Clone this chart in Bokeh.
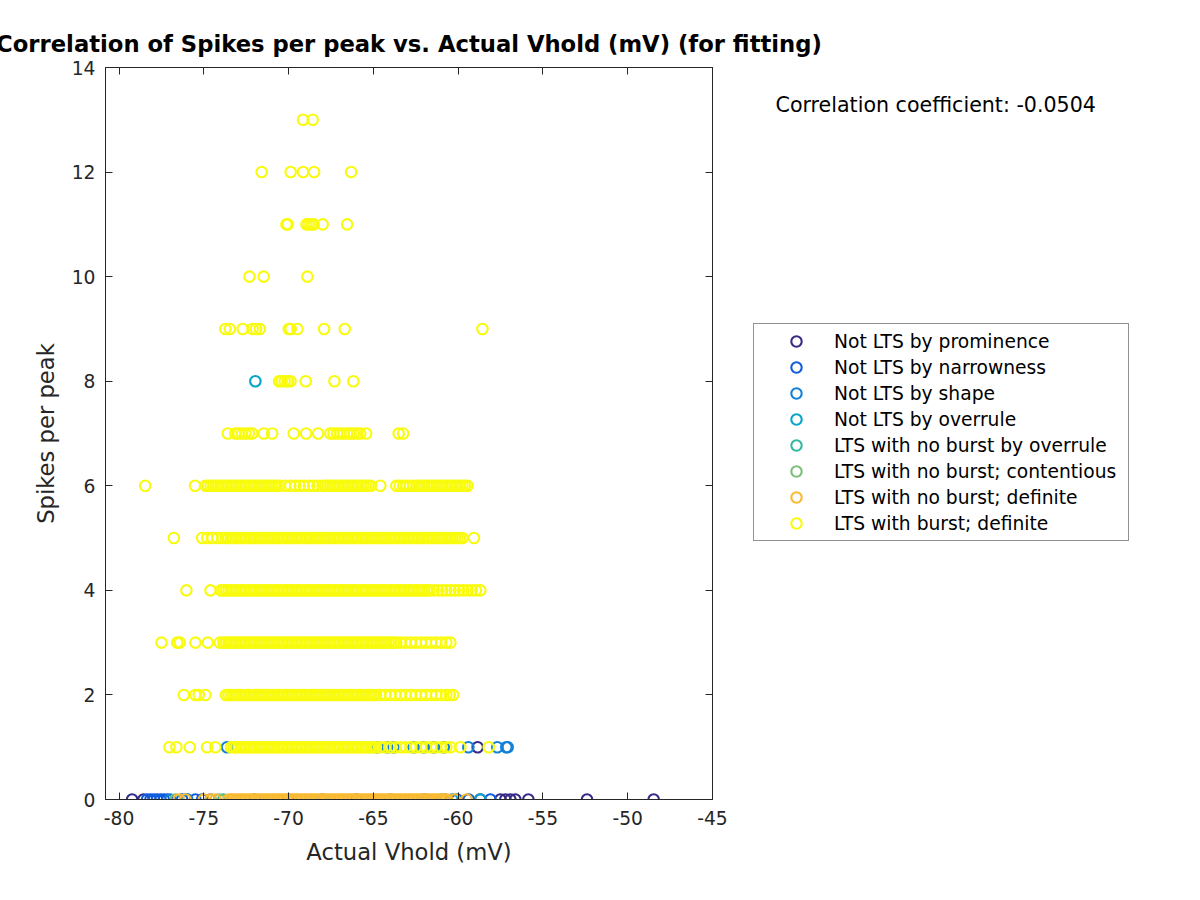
from bokeh.plotting import figure
from bokeh.layouts import row, column
from bokeh.models import (ColumnDataSource, Legend, LegendItem, Label, LinearAxis,
                          Range1d, FixedTicker)
from bokeh.embed import file_html
from bokeh.resources import INLINE

FONT = "DejaVu Sans"
TXT = "#262626"

title_text = "Correlation of Spikes per peak vs. Actual Vhold (mV) (for fitting)"
x_label = "Actual Vhold (mV)"
y_label = "Spikes per peak"

categories = ["Not LTS by prominence", "Not LTS by narrowness", "Not LTS by shape",
              "Not LTS by overrule", "LTS with no burst by overrule",
              "LTS with no burst; contentious", "LTS with no burst; definite",
              "LTS with burst; definite"]
colors = ["#352A87", "#0F5CDD", "#1481D6", "#06A4CA", "#33B8A1", "#7CBF7B", "#F8BA32", "#F9FB0E"]

x_ticks = [-80, -75, -70, -65, -60, -55, -50, -45]
x_tick_labels = ["-80", "-75", "-70", "-65", "-60", "-55", "-50", "-45"]
y_ticks = [0, 2, 4, 6, 8, 10, 12, 14]
corr_coef = -0.0504

# ---- Not LTS by prominence ----
prominence_x = [-79.23, -78.56, -58.85, -58.70, -57.51, -57.22, -56.92, -56.63, -55.86, -52.40, -48.47]
prominence_y = [0, 0, 1, 0, 0, 0, 0, 0, 0, 0, 0]

# ---- Not LTS by narrowness ----
narrowness_x = [-78.35, -78.15, -77.95, -77.76, -77.56, -77.36, -77.15, -76.28, -75.98, -75.50,
                -75.10, -60.07, -59.38, -58.10]
narrowness_y = [0, 0, 0, 0, 0, 0, 0, 0, 0, 0, 0, 0, 0, 0]

# ---- Not LTS by shape ----
shape_x = [-76.97, -76.00, -74.60, -72.00, -70.00, -68.00, -66.00, -64.00, -62.00, -60.80,
           -73.63, -64.78, -64.19, -63.80, -62.62, -62.03, -61.44, -60.85, -59.40, -57.69, -57.16, -57.08]
shape_y = [0, 0, 0, 0, 0, 0, 0, 0, 0, 0,
           1, 1, 1, 1, 1, 1, 1, 1, 1, 1, 1, 1]

# ---- Not LTS by overrule ----
overrule_x = [-60.35, -58.69, -71.96]
overrule_y = [0, 0, 8]

# ---- LTS with no burst by overrule ----
nb_overrule_x = [-73.85, -61.00]
nb_overrule_y = [0, 0]

# ---- LTS with no burst; contentious ----
contentious_x = [-76.67, -74.10]
contentious_y = [0, 0]

# ---- LTS with no burst; definite (all at 0 spikes per peak) ----
nb_definite_x = [-76.48, -76.08, -75.00, -74.60, -74.30,
    -73.55, -73.40, -73.25, -73.10, -72.95, -72.80, -72.65, -72.50, -72.35, -72.20, -72.05,
    -71.90, -71.75, -71.60, -71.45, -71.30, -71.15, -71.00, -70.85, -70.70, -70.55, -70.40,
    -70.25, -70.10, -69.95, -69.80, -69.65, -69.50, -69.35, -69.20, -69.05, -68.90, -68.75,
    -68.60, -68.45, -68.30, -68.15, -68.00, -67.85, -67.70, -67.55, -67.40, -67.25, -67.10,
    -66.95, -66.80, -66.65, -66.50, -66.35, -66.20, -66.05, -65.90, -65.75, -65.60, -65.45,
    -65.30, -65.15, -65.00, -64.85, -64.70, -64.55, -64.40, -64.25, -64.10, -63.95, -63.80,
    -63.65, -63.50, -63.35, -63.20, -63.05, -62.90, -62.75, -62.60, -62.45, -62.30, -62.15,
    -62.00, -61.85, -61.70, -61.55, -61.40, -61.25, -61.10, -60.95, -60.80, -60.65,
    -60.20, -59.50]

# ---- LTS with burst; definite: x values of each spikes-per-peak row ----
burst_x_1 = [-77.03, -76.62, -75.83, -74.81, -74.32,
    -73.40, -73.25, -73.10, -72.95, -72.80, -72.65, -72.50, -72.35, -72.20, -72.05, -71.90,
    -71.75, -71.60, -71.45, -71.30, -71.15, -71.00, -70.85, -70.70, -70.55, -70.40, -70.25,
    -70.10, -69.95, -69.80, -69.65, -69.50, -69.35, -69.20, -69.05, -68.90, -68.75, -68.60,
    -68.45, -68.30, -68.15, -68.00, -67.85, -67.70, -67.55, -67.40, -67.25, -67.10, -66.95,
    -66.80, -66.65, -66.50, -66.35, -66.20, -66.05, -65.90, -65.75, -65.60, -65.45, -65.30,
    -65.15, -65.00, -64.85,
    -64.60, -64.30, -64.00, -63.70, -63.40, -63.10, -62.80, -62.50, -62.20, -61.90, -61.60,
    -61.30, -61.00, -60.70, -60.45, -59.87, -58.20]
burst_x_2 = [-76.18, -75.50, -75.30, -74.91,
    -73.70, -73.55, -73.40, -73.25, -73.10, -72.95, -72.80, -72.65, -72.50, -72.35, -72.20,
    -72.05, -71.90, -71.75, -71.60, -71.45, -71.30, -71.15, -71.00, -70.85, -70.70, -70.55,
    -70.40, -70.25, -70.10, -69.95, -69.80, -69.65, -69.50, -69.35, -69.20, -69.05, -68.90,
    -68.75, -68.60, -68.45, -68.30, -68.15, -68.00, -67.85, -67.70, -67.55, -67.40, -67.25,
    -67.10, -66.95, -66.80, -66.65, -66.50, -66.35, -66.20, -66.05, -65.90, -65.75, -65.60,
    -65.45, -65.30, -65.15, -65.00, -64.85,
    -64.60, -64.30, -64.00, -63.70, -63.40, -63.10, -62.80, -62.50, -62.20, -61.90, -61.60,
    -61.30, -61.00, -60.70, -60.50, -60.30]
burst_x_3 = [-77.50, -76.57, -76.42, -75.50, -74.77, -74.06,
    -73.85, -73.70, -73.55, -73.40, -73.25, -73.10, -72.95, -72.80, -72.65, -72.50, -72.35,
    -72.20, -72.05, -71.90, -71.75, -71.60, -71.45, -71.30, -71.15, -71.00, -70.85, -70.70,
    -70.55, -70.40, -70.25, -70.10, -69.95, -69.80, -69.65, -69.50, -69.35, -69.20, -69.05,
    -68.90, -68.75, -68.60, -68.45, -68.30, -68.15, -68.00, -67.85, -67.70, -67.55, -67.40,
    -67.25, -67.10, -66.95, -66.80, -66.65, -66.50, -66.35, -66.20, -66.05, -65.90, -65.75,
    -65.60, -65.45, -65.30, -65.15, -65.00, -64.85, -64.70, -64.55, -64.40, -64.25, -64.10,
    -63.95, -63.80, -63.65,
    -63.40, -63.10, -62.80, -62.50, -62.20, -61.90, -61.60, -61.30, -61.00, -60.70, -60.46]
burst_x_4 = [-76.03, -74.61,
    -74.00, -73.85, -73.70, -73.55, -73.40, -73.25, -73.10, -72.95, -72.80, -72.65, -72.50,
    -72.35, -72.20, -72.05, -71.90, -71.75, -71.60, -71.45, -71.30, -71.15, -71.00, -70.85,
    -70.70, -70.55, -70.40, -70.25, -70.10, -69.95, -69.80, -69.65, -69.50, -69.35, -69.20,
    -69.05, -68.90, -68.75, -68.60, -68.45, -68.30, -68.15, -68.00, -67.85, -67.70, -67.55,
    -67.40, -67.25, -67.10, -66.95, -66.80, -66.65, -66.50, -66.35, -66.20, -66.05, -65.90,
    -65.75, -65.60, -65.45, -65.30, -65.15, -65.00, -64.85, -64.70, -64.55, -64.40, -64.25,
    -64.10, -63.95, -63.80, -63.65, -63.50, -63.35, -63.20, -63.05, -62.90, -62.75, -62.60,
    -62.45, -62.30, -62.15, -62.00, -61.85, -61.70,
    -61.45, -61.20, -60.95, -60.70, -60.45, -60.20, -59.95, -59.70, -59.45, -59.20, -58.95, -58.69]
burst_x_5 = [-76.77, -75.10, -74.80, -74.50, -74.20, -73.90,
    -73.70, -73.55, -73.40, -73.25, -73.10, -72.95, -72.80, -72.65, -72.50, -72.35, -72.20,
    -72.05, -71.90, -71.75, -71.60, -71.45, -71.30, -71.15, -71.00, -70.85, -70.70, -70.55,
    -70.40, -70.25, -70.10, -69.95, -69.80, -69.65, -69.50, -69.35, -69.20, -69.05, -68.90,
    -68.75, -68.60, -68.45, -68.30, -68.15, -68.00, -67.85, -67.70, -67.55, -67.40, -67.25,
    -67.10, -66.95, -66.80, -66.65, -66.50, -66.35, -66.20, -66.05, -65.90, -65.75, -65.60,
    -65.45, -65.30, -65.15, -65.00, -64.85, -64.70, -64.55, -64.40, -64.25, -64.10, -63.95,
    -63.80, -63.65, -63.50, -63.35, -63.20, -63.05, -62.90, -62.75, -62.60, -62.45, -62.30,
    -62.15, -62.00, -61.85, -61.70, -61.55, -61.40, -61.25, -61.10, -60.95, -60.80, -60.65,
    -60.50, -60.35, -60.20, -60.05, -59.90, -59.75, -59.07]
burst_x_6 = [-78.46, -75.52,
    -74.90, -74.75, -74.60, -74.45, -74.30, -74.15, -74.00, -73.85, -73.70, -73.55, -73.40,
    -73.25, -73.10, -72.95, -72.80, -72.65, -72.50, -72.35, -72.20, -72.05, -71.90, -71.75,
    -71.60, -71.45, -71.30, -71.15, -71.00, -70.85, -70.70, -70.55,
    -70.20, -69.90, -69.60, -69.35, -69.10, -68.80, -68.55, -68.30,
    -68.00, -67.85, -67.70, -67.55, -67.40, -67.25, -67.10, -66.95, -66.80, -66.65, -66.50,
    -66.35, -66.20, -66.05, -65.90, -65.75, -65.60, -65.45, -65.30, -65.15, -64.59,
    -63.65, -63.45, -63.25, -63.05, -62.85, -62.65, -62.45, -62.30, -62.15, -62.00, -61.85,
    -61.70, -61.55, -61.40, -61.25, -61.10, -60.95, -60.80, -60.65, -60.50, -60.35, -60.20,
    -60.05, -59.90, -59.75, -59.60, -59.45]
burst_x_7 = [-73.59, -73.14, -72.95, -72.75, -72.55, -72.35, -72.15, -71.47, -70.97, -69.70,
             -68.97, -68.26, -67.54, -67.35, -67.15, -66.95, -66.75, -66.55, -66.35, -66.15,
             -65.95, -65.77, -65.43, -63.51, -63.25]
burst_x_8 = [-70.56, -70.41, -70.23, -70.05, -69.89, -68.99, -67.30, -66.18]
burst_x_9 = [-73.73, -73.47, -72.71, -72.12, -71.92, -71.70, -69.99, -69.88, -69.48, -67.91,
             -66.69, -58.57]
burst_x_10 = [-72.31, -71.47, -68.89]
burst_x_11 = [-70.13, -70.05, -68.95, -68.81, -68.66, -68.52, -67.99, -66.55]
burst_x_12 = [-71.59, -69.88, -69.15, -68.50, -66.31]
burst_x_13 = [-69.15, -68.58]

burst_rows = [(1, burst_x_1), (2, burst_x_2), (3, burst_x_3), (4, burst_x_4), (5, burst_x_5),
              (6, burst_x_6), (7, burst_x_7), (8, burst_x_8), (9, burst_x_9), (10, burst_x_10),
              (11, burst_x_11), (12, burst_x_12), (13, burst_x_13)]
burst_x = [v for _, r in burst_rows for v in r]
burst_y = [k for k, r in burst_rows for _ in r]
nb_definite_y = [0] * len(nb_definite_x)

series = [
    (prominence_x, prominence_y),
    (narrowness_x, narrowness_y),
    (shape_x, shape_y),
    (overrule_x, overrule_y),
    (nb_overrule_x, nb_overrule_y),
    (contentious_x, contentious_y),
    (nb_definite_x, nb_definite_y),
    (burst_x, burst_y),
]
sources = [ColumnDataSource(dict(x=xs, y=ys)) for xs, ys in series]

MSIZE = 10.5
MLW = 2.1
TOP_H = 57
MAIN_H = 884 - TOP_H

# ---------------- title strip ----------------
head = figure(width=1184, height=TOP_H, output_backend="svg", toolbar_location=None,
              x_range=Range1d(0, 1), y_range=Range1d(0, 1),
              x_axis_type=None, y_axis_type=None,
              min_border_left=105, min_border_right=472, min_border_top=TOP_H - 1,
              min_border_bottom=0, background_fill_color="white", border_fill_color="white")
head.grid.visible = False
head.outline_line_color = None
head.title.text = title_text
head.title.align = "center"
head.title.text_font = FONT
head.title.text_font_size = "22.7px"
head.title.text_font_style = "bold"
head.title.text_color = "black"
head.title.standoff = 0

# ---------------- main axes ----------------
p = figure(width=752, height=MAIN_H, output_backend="svg", toolbar_location=None,
           x_range=Range1d(-80.8, -45), y_range=Range1d(0, 14),
           min_border_left=105, min_border_right=40, min_border_top=67 - TOP_H,
           min_border_bottom=MAIN_H - (67 - TOP_H) - 732,
           background_fill_color="white", border_fill_color="white")
p.grid.visible = False
p.outline_line_color = TXT
p.outline_line_width = 1

for src, col in zip(sources, colors):
    p.scatter("x", "y", source=src, marker="circle", size=MSIZE, fill_color=None,
              line_color=col, line_width=MLW)

def style_axis(ax):
    ax.axis_line_color = TXT
    ax.major_tick_line_color = TXT
    ax.major_tick_in = 7
    ax.major_tick_out = 0
    ax.minor_tick_line_color = None
    ax.major_label_text_font = FONT
    ax.major_label_text_font_size = "18.7px"
    ax.major_label_text_color = TXT
    ax.axis_label_text_font = FONT
    ax.axis_label_text_font_size = "22.7px"
    ax.axis_label_text_font_style = "normal"
    ax.axis_label_text_color = TXT

p.xaxis.ticker = FixedTicker(ticks=x_ticks)
p.yaxis.ticker = FixedTicker(ticks=y_ticks)
style_axis(p.xaxis[0])
style_axis(p.yaxis[0])
p.xaxis.major_label_overrides = dict(zip(x_ticks, x_tick_labels))
p.xaxis.axis_label = x_label
p.yaxis.axis_label = y_label
p.xaxis.major_label_standoff = 11
p.xaxis.axis_label_standoff = 11
p.yaxis.major_label_standoff = 10
p.yaxis.axis_label_standoff = 10

top = LinearAxis(ticker=FixedTicker(ticks=x_ticks))
style_axis(top)
top.major_label_standoff = 0
top.major_label_overrides = {t: "" for t in x_ticks}
p.add_layout(top, "above")
right = LinearAxis(ticker=FixedTicker(ticks=y_ticks))
style_axis(right)
right.major_label_standoff = 0
right.major_label_overrides = {t: "" for t in y_ticks}
p.add_layout(right, "right")

# ---------------- side area: legend and correlation text ----------------
side = figure(width=432, height=MAIN_H, output_backend="svg", toolbar_location=None,
              x_range=Range1d(0, 1), y_range=Range1d(0, 1),
              x_axis_type=None, y_axis_type=None, min_border=0,
              background_fill_color="white", border_fill_color="white")
side.grid.visible = False
side.outline_line_color = None

# legend keys: same sources, drawn outside this panel's visible range
keys = [side.scatter("x", "y", source=src, marker="circle", size=MSIZE, fill_color=None,
                     line_color=col, line_width=MLW)
        for src, col in zip(sources, colors)]

legend = Legend(items=[LegendItem(label=c, renderers=[r]) for c, r in zip(categories, keys)],
                location=(1, 258), orientation="vertical")
legend.padding = 4
legend.spacing = 0
legend.glyph_height = 26
legend.glyph_width = 76
legend.label_height = 20
legend.label_standoff = 0
legend.label_width = 290
legend.label_text_font = FONT
legend.label_text_font_size = "18.7px"
legend.label_text_color = "black"
legend.border_line_color = TXT
legend.border_line_width = 1
legend.background_fill_color = "white"
legend.background_fill_alpha = 1
legend.margin = 0
side.add_layout(legend, "center")

corr = Label(x=23, y=695, x_units="screen", y_units="screen",
             text=f"Correlation coefficient: {corr_coef:.4f}", text_font=FONT,
             text_font_size="20.6px", text_color="black", text_baseline="middle")
side.add_layout(corr)

layout = column(head, row(p, side))
open("out.html", "w").write(file_html(layout, INLINE))
